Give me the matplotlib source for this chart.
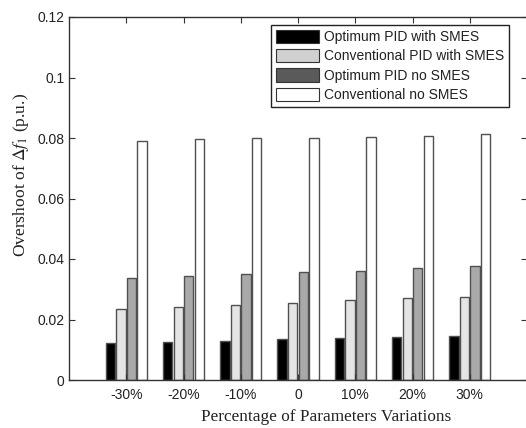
import matplotlib
matplotlib.use("Agg")
import matplotlib.pyplot as plt
import numpy as np
from matplotlib.patches import Patch

categories = ["-30%", "-20%", "-10%", "0", "10%", "20%", "30%"]
series_names = ["Optimum PID with SMES", "Conventional PID with SMES",
                "Optimum PID no SMES", "Conventional no SMES"]
opt_smes = [0.0123, 0.0127, 0.0130, 0.0134, 0.0138, 0.0142, 0.0146]
conv_smes = [0.0236, 0.0242, 0.0249, 0.0256, 0.0265, 0.0271, 0.0274]
opt_nosmes = [0.0337, 0.0344, 0.0351, 0.0358, 0.0361, 0.0369, 0.0376]
conv_nosmes = [0.0790, 0.0797, 0.0801, 0.0800, 0.0804, 0.0807, 0.0813]

series = [opt_smes, conv_smes, opt_nosmes, conv_nosmes]
bar_colors = ["#000000", "#e4e4e4", "#a9a9a9", "#ffffff"]
legend_colors = ["#000000", "#d0d0d0", "#5a5a5a", "#ffffff"]

plt.rcParams["mathtext.fontset"] = "stix"

fig = plt.figure(figsize=(5.26, 4.28), dpi=100)
ax = fig.add_axes([69/526, 1-380/428, (527-69)/526, (380-17)/428])

x = np.arange(1, len(categories) + 1)
width = 0.165
offsets = [-0.276, -0.092, 0.092, 0.276]
for vals, c, off in zip(series, bar_colors, offsets):
    ax.bar(x + off, vals, width, color=c, edgecolor="#505050", linewidth=1.0)

ax.set_xlim(0, 8)
ax.set_ylim(0, 0.12)
ax.set_xticks(x)
ax.set_xticklabels(categories)
ax.set_yticks([0, 0.02, 0.04, 0.06, 0.08, 0.1, 0.12])
ax.set_yticklabels(["0", "0.02", "0.04", "0.06", "0.08", "0.1", "0.12"])
ax.tick_params(direction="in", top=True, right=True, length=4, width=0.8,
               labelsize=10, colors="#333333", labelcolor="#222222")
ax.tick_params(axis="x", pad=6)
for lab in ax.get_xticklabels() + ax.get_yticklabels():
    lab.set_fontfamily("Liberation Sans")
for s in ax.spines.values():
    s.set_color("#333333")
    s.set_linewidth(1.0)

ax.set_ylabel(r"Overshoot of $\Delta f_1$ (p.u.)", fontfamily="Liberation Serif",
              fontsize=12.6, color="#222222", va="center")
ax.yaxis.set_label_coords((21-69)/458, (380-175)/363)
ax.set_xlabel("Percentage of Parameters Variations", fontfamily="Liberation Serif",
              fontsize=12.4, color="#222222", va="center")
ax.xaxis.set_label_coords((326-69)/458, (380-417)/363)

handles = [Patch(facecolor=c, edgecolor="#333333", linewidth=0.8) for c in legend_colors]
leg = ax.legend(handles, series_names, loc="upper right",
                bbox_to_anchor=((509-69)/(527-69), 1-(25-17)/(380-17)),
                borderaxespad=0, fancybox=False, framealpha=1,
                edgecolor="#222222", prop={"family": "Liberation Sans", "size": 10},
                handlelength=3.1, handleheight=1.1, labelspacing=0.35,
                handletextpad=0.35, borderpad=0.35)
leg.get_frame().set_linewidth(1.0)
for t in leg.get_texts():
    t.set_color("#222222")

fig.savefig("out.png", dpi=100)
